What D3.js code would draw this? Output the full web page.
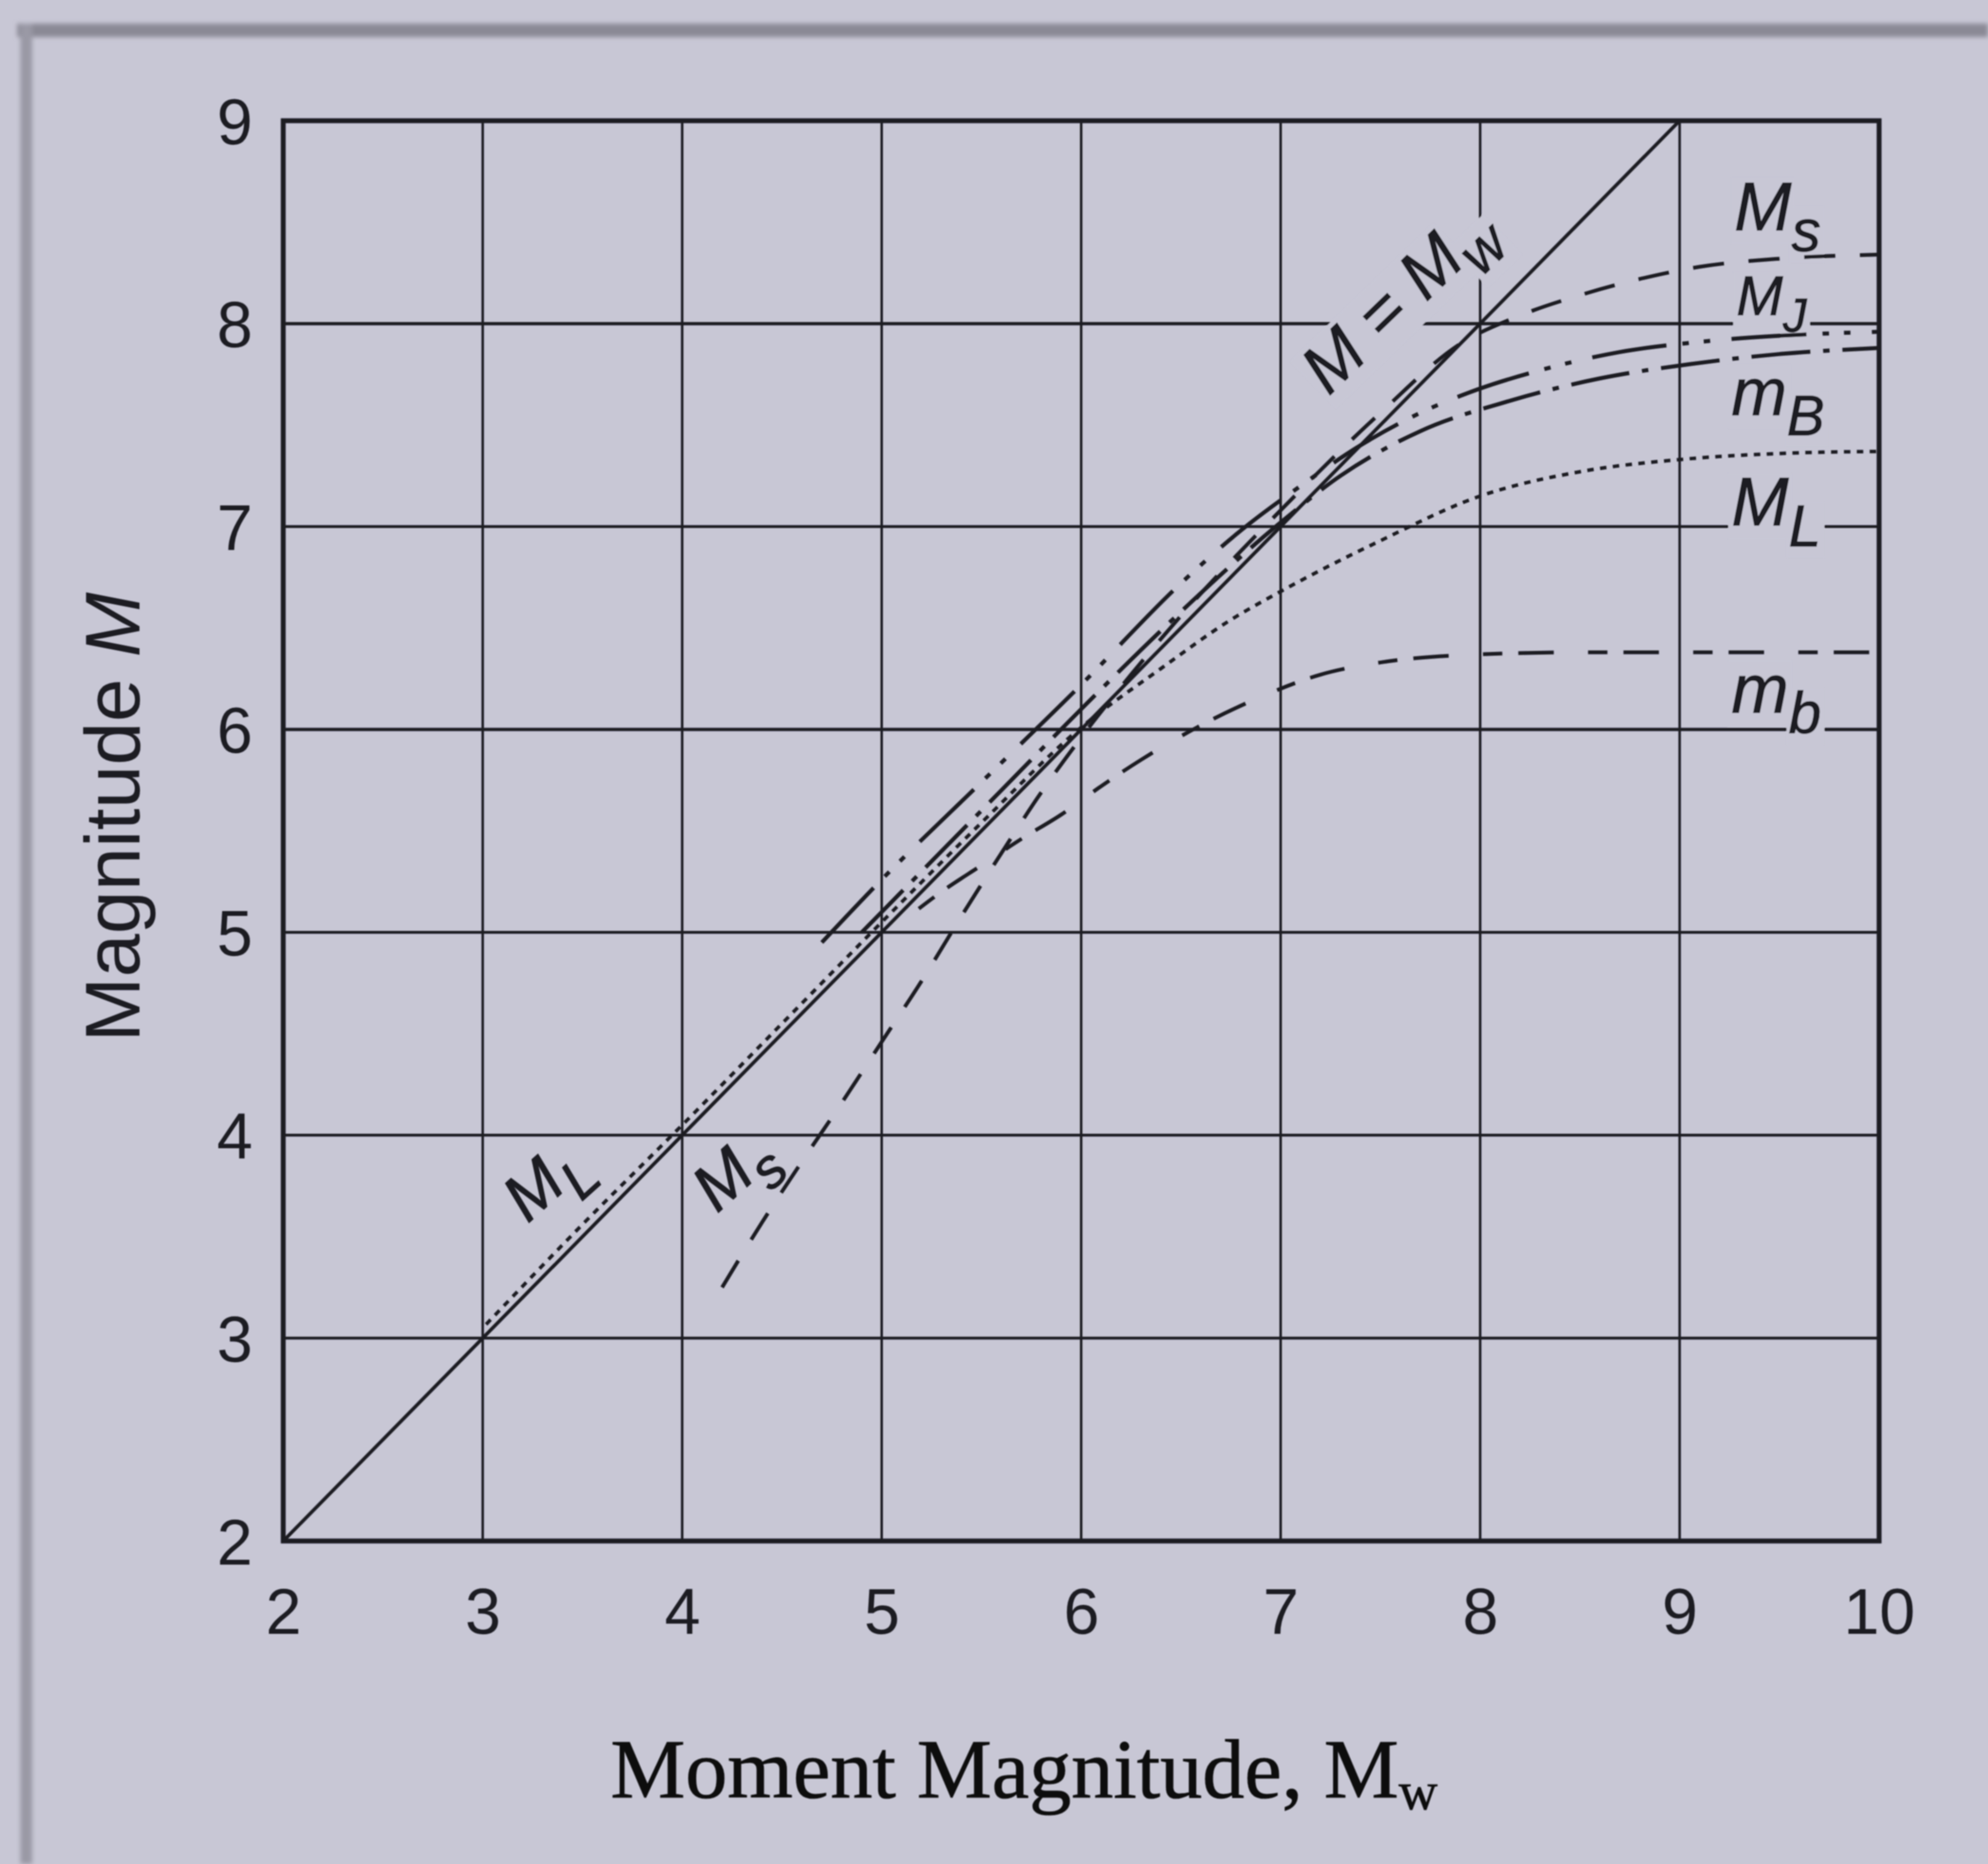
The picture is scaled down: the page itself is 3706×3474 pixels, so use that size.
<!DOCTYPE html>
<html>
<head>
<meta charset="utf-8">
<script src="https://cdn.jsdelivr.net/npm/d3@7"></script>
<style>
  html, body { margin: 0; padding: 0; background: #c8c7d5; }
  svg { display: block; }
</style>
</head>
<body>
<svg id="chart" width="3706" height="3474"></svg>
<script>
// ---- axis ticks ----
const xTicks = [2, 3, 4, 5, 6, 7, 8, 9, 10];
const yTicks = [2, 3, 4, 5, 6, 7, 8, 9];

// ---- magnitude scales versus moment magnitude Mw ----
// reference line M = Mw
const identityMw = [2, 9];
const identityM  = [2, 9];

// surface-wave magnitude Ms
const msMw = [4.2, 4.4, 4.6, 4.8, 5.0, 5.2, 5.4, 5.6, 5.8, 6.0, 6.25, 6.5, 7.0, 7.5, 7.9, 8.2, 8.5, 8.8, 9.1, 9.5, 10];
const msM  = [3.25, 3.57, 3.87, 4.16, 4.46, 4.76, 5.08, 5.39, 5.69, 5.96, 6.27, 6.56, 7.08, 7.56, 7.9, 8.04, 8.14, 8.22, 8.28, 8.32, 8.34];

// JMA magnitude
const mjMw = [4.7, 5.0, 5.5, 6.0, 6.5, 6.8, 7.1, 7.4, 7.7, 8.0, 8.3, 8.7, 9.1, 9.5, 10];
const mjM  = [4.95, 5.26, 5.74, 6.22, 6.72, 6.98, 7.2, 7.4, 7.56, 7.68, 7.77, 7.86, 7.91, 7.94, 7.96];

// long-period body-wave magnitude mB
const mBMw = [4.9, 5.2, 5.6, 6.0, 6.5, 7.0, 7.3, 7.7, 8.15, 8.6, 9.05, 9.5, 10];
const mBM  = [5.0, 5.3, 5.7, 6.1, 6.58, 7.02, 7.25, 7.47, 7.62, 7.73, 7.8, 7.85, 7.88];

// local magnitude ML
const mlMw = [3.0, 3.5, 4.0, 4.5, 5.0, 5.5, 6.0, 6.4, 6.75, 7.0, 7.5, 8.0, 8.5, 9.0, 9.5, 10];
const mlM  = [3.05, 3.56, 4.05, 4.55, 5.05, 5.54, 6.01, 6.3, 6.54, 6.68, 6.93, 7.15, 7.27, 7.33, 7.36, 7.37];

// short-period body-wave magnitude mb
const mbMw = [5.1, 5.3, 5.5, 5.7, 5.9, 6.1, 6.3, 6.6, 6.9, 7.2, 7.5, 8.0, 8.5, 9.0, 10];
const mbM  = [5.05, 5.2, 5.33, 5.46, 5.58, 5.72, 5.85, 6.02, 6.16, 6.27, 6.33, 6.37, 6.38, 6.38, 6.38];

// ---- page setup ----
const W = 3706, H = 3474;
const BG = "#c8c7d5";
const INK = "#1b1b22";
const SANS = "'Liberation Sans', Arial, sans-serif";
const SERIF = "'Liberation Serif', 'Times New Roman', serif";

const svg = d3.select("#chart");
const defs = svg.append("defs");
defs.append("filter").attr("id", "soft")
  .attr("filterUnits", "userSpaceOnUse")
  .attr("x", 0).attr("y", 0).attr("width", W).attr("height", H)
  .append("feGaussianBlur").attr("stdDeviation", 1.1);
defs.append("filter").attr("id", "edge")
  .attr("filterUnits", "userSpaceOnUse")
  .attr("x", 0).attr("y", 0).attr("width", W).attr("height", H)
  .append("feGaussianBlur").attr("stdDeviation", 4);

svg.append("rect").attr("width", W).attr("height", H).attr("fill", BG);

// page border strips along the top and left
const edges = svg.append("g").attr("filter", "url(#edge)");
edges.append("rect").attr("x", 32).attr("y", 44).attr("width", W - 32).attr("height", 25).attr("fill", "#8a8995");
edges.append("rect").attr("x", 38).attr("y", 44).attr("width", 22).attr("height", H - 44).attr("fill", "#9a99a5");

const root = svg.append("g").attr("filter", "url(#soft)");

// ---- scales ----
const x = d3.scaleLinear().domain([2, 10]).range([528, 3503]);
const y = d3.scaleLinear().domain([2, 9]).range([2872, 225]);

const gridLayer  = root.append("g");
const maskLayer  = root.append("g");
const curveLayer = root.append("g");
const frameLayer = root.append("g");
const labelLayer = root.append("g");
const axisLayer  = root.append("g");

// ---- grid ----
gridLayer.selectAll("line.v")
  .data(xTicks.slice(1, -1))
  .join("line")
  .attr("class", "v")
  .attr("x1", d => x(d)).attr("x2", d => x(d))
  .attr("y1", y(9)).attr("y2", y(2))
  .attr("stroke", INK).attr("stroke-width", 4.6);

gridLayer.selectAll("line.h")
  .data(yTicks.slice(1, -1))
  .join("line")
  .attr("class", "h")
  .attr("x1", x(2)).attr("x2", x(10))
  .attr("y1", d => y(d)).attr("y2", d => y(d))
  .attr("stroke", INK).attr("stroke-width", d => (d === 6 || d === 8) ? 6 : 5.2);

// ---- curves ----
// "fromRight" curves align their dash pattern so a dash ends on the right-hand frame
const series = [
  { mw: mbMw, m: mbM, dash: "36,30,66,64", width: 7, fromRight: true },
  { mw: mlMw, m: mlM, dash: "12,12", width: 6.5, fromRight: true },
  { mw: mBMw, m: mBM, dash: "110,24,12,24", width: 7.5, fromRight: false },
  { mw: mjMw, m: mjM, dash: "140,30,12,28,12,40", width: 7.5, fromRight: false },
  { mw: msMw, m: msM, dash: "58,46", width: 7, fromRight: false },
  { mw: identityMw, m: identityM, dash: null, width: 6.5, fromRight: false }
];

const line = d3.line()
  .x(d => x(d[0]))
  .y(d => y(d[1]))
  .curve(d3.curveMonotoneX);

curveLayer.selectAll("path")
  .data(series)
  .join("path")
  .attr("d", s => line(s.mw.map((v, i) => [v, s.m[i]])))
  .attr("fill", "none")
  .attr("stroke", INK)
  .attr("stroke-width", s => s.width)
  .attr("stroke-dasharray", s => s.dash)
  .each(function (s) {
    if (!s.fromRight || !s.dash) return;
    const L = this.getTotalLength();
    const parts = s.dash.split(",").map(Number);
    const T = d3.sum(parts);
    const off = (parts[0] - (L % T) + T) % T;
    d3.select(this).attr("stroke-dashoffset", -off);
  });

// ---- plot frame ----
frameLayer.append("rect")
  .attr("x", x(2)).attr("y", y(9))
  .attr("width", x(10) - x(2)).attr("height", y(2) - y(9))
  .attr("fill", "none").attr("stroke", INK).attr("stroke-width", 9);

// ---- curve labels ----
const labels = [
  { main: "M = M", sub: "w", at: [7.24, 7.64], angle: -44, size: 128, knock: true },
  { main: "M", sub: "s", at: [9.274, 8.46], angle: 0, size: 128, knock: true },
  { main: "M", sub: "J", at: [9.285, 8.043], angle: 0, size: 104, knock: true },
  { main: "m", sub: "B", at: [9.26, 7.55], angle: 0, size: 124, knock: true },
  { main: "M", sub: "L", at: [9.26, 7.005], angle: 0, size: 128, knock: true },
  { main: "m", sub: "b", at: [9.26, 6.083], angle: 0, size: 128, knock: true },
  { main: "M", sub: "L", at: [3.225, 3.562], angle: -42, size: 122, knock: false },
  { main: "M", sub: "s", at: [4.174, 3.612], angle: -42, size: 122, knock: false }
];

labels.forEach(d => {
  const tf = `translate(${x(d.at[0])},${y(d.at[1])}) rotate(${d.angle})`;
  const g = labelLayer.append("g").attr("transform", tf)
    .attr("font-family", SANS).attr("font-style", "italic").attr("fill", INK)
    .attr("stroke", INK).attr("stroke-width", 1.5);
  const t1 = g.append("text").attr("font-size", d.size).text(d.main);
  const w1 = t1.node().getComputedTextLength();
  const subSize = d.size * 0.85;
  const subShift = d.size * 0.3;
  const t2 = g.append("text")
    .attr("x", w1).attr("y", subShift)
    .attr("font-size", subSize).text(d.sub);
  const w2 = t2.node().getComputedTextLength();
  if (d.knock) {
    // clear the grid behind the lettering
    const mg = maskLayer.append("g").attr("transform", tf);
    mg.append("rect")
      .attr("x", -6).attr("y", -d.size * 0.76)
      .attr("width", w1 + 12).attr("height", d.size * 0.96)
      .attr("fill", BG);
    mg.append("rect")
      .attr("x", w1 - 4).attr("y", subShift - subSize * 0.76)
      .attr("width", w2 + 10).attr("height", subSize * 0.96)
      .attr("fill", BG);
  }
});

// ---- axes ----
const xAxis = d3.axisBottom(x).tickValues(xTicks).tickSize(0).tickFormat(d3.format("d"));
const gx = axisLayer.append("g").attr("transform", `translate(0,${y(2)})`).call(xAxis);
gx.select(".domain").remove();
gx.selectAll("text")
  .attr("y", 173).attr("dy", null)
  .attr("font-family", SANS).attr("font-size", 120).attr("fill", INK);

const yAxis = d3.axisLeft(y).tickValues(yTicks).tickSize(0).tickFormat(d3.format("d"));
const gy = axisLayer.append("g").attr("transform", `translate(${x(2)},0)`).call(yAxis);
gy.select(".domain").remove();
gy.selectAll("text")
  .attr("x", -57).attr("dy", "0.36em")
  .attr("font-family", SANS).attr("font-size", 120).attr("fill", INK);

// axis titles
const xTitle = axisLayer.append("text")
  .attr("x", 1138).attr("y", 3350)
  .attr("font-family", SERIF).attr("font-size", 157).attr("fill", "#111")
  .attr("stroke", "#111").attr("stroke-width", 1.2);
xTitle.append("tspan").text("Moment Magnitude, M");
xTitle.append("tspan").attr("font-size", 100).attr("dy", 22).text("w");

const yTitle = axisLayer.append("text")
  .attr("transform", "translate(260,1523) rotate(-90)")
  .attr("text-anchor", "middle")
  .attr("font-family", SANS).attr("font-size", 145).attr("fill", INK);
yTitle.append("tspan").text("Magnitude ");
yTitle.append("tspan").attr("font-style", "italic").text("M");
</script>
</body>
</html>
